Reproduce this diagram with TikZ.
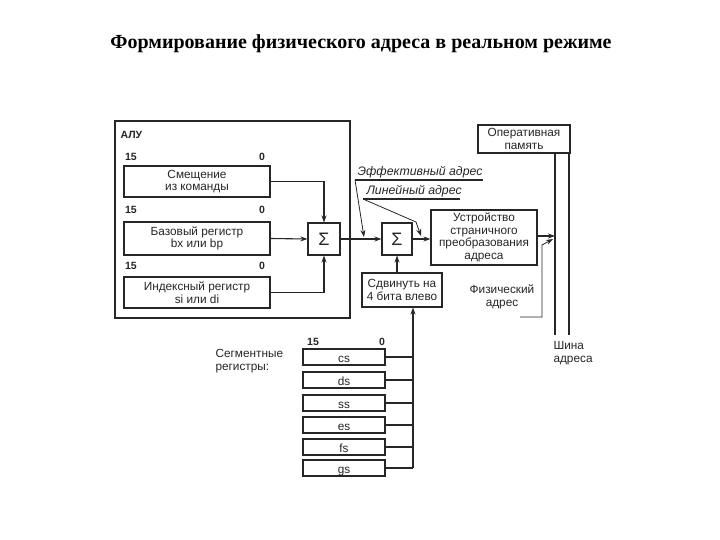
\documentclass[tikz,border=0pt]{standalone}
\usepackage{fontspec}
\setmainfont{Liberation Sans}
\newfontfamily\titlefont{Liberation Serif}
\usetikzlibrary{arrows.meta}
\begin{document}
\begin{tikzpicture}[x=1pt,y=-1pt,line width=1.1pt,
  ink/.style={draw=black!85},
  box/.style={draw=black!85,line width=1.1pt,inner sep=0pt,align=center,text=black!85,font=\fontsize{11.8}{12.5}\selectfont},
  lbl/.style={inner sep=0pt,text=black!85,font=\fontsize{11.8}{12.5}\selectfont},
  num/.style={inner sep=0pt,text=black!85,font=\bfseries\fontsize{10.5}{11}\selectfont},
  itlbl/.style={inner sep=0pt,text=black!85,font=\itshape\fontsize{12.3}{13}\selectfont},
  arr/.style={draw=black!85,-{Stealth[length=7pt,width=5pt]}},
  sig/.style={draw=black!85,line width=1.1pt,inner sep=0pt,text=black!85,font=\fontsize{18}{18}\selectfont},
  seg/.style={draw=black!85,line width=1.1pt,inner sep=0pt,text=black!85,font=\fontsize{11.8}{12.5}\selectfont,minimum width=82pt,minimum height=16pt,text height=11pt,text depth=0pt}]
\useasboundingbox (0,0) rectangle (720,540);
\fill[white] (0,0) rectangle (720,540);
% title
\node[inner sep=0pt,font=\titlefont\bfseries\fontsize{20}{22}\selectfont] (title) at (361,44) {Формирование физического адреса в реальном режиме};
% ALU
\node[box,minimum width=235pt,minimum height=197pt] (alu) at (232.5,219.5) {};
\node[lbl,font=\bfseries\fontsize{10.5}{11}\selectfont,anchor=west] (alul) at (120,135) {АЛУ};
\node[box,minimum width=146pt,minimum height=31pt] (r1) at (197,181.5) {Смещение\\из команды};
\node[box,minimum width=146pt,minimum height=33pt] (r2) at (197,238.5) {Базовый регистр\\bx или bp};
\node[box,minimum width=146pt,minimum height=31pt] (r3) at (197,292.5) {Индексный регистр\\si или di};
\node[num] (r1a) at (131,157) {15};
\node[num] (r1b) at (262,157) {0};
\node[num] (r2a) at (131,210) {15};
\node[num] (r2b) at (262,210) {0};
\node[num] (r3a) at (131,266) {15};
\node[num] (r3b) at (262,266) {0};
\node[sig,minimum width=32pt,minimum height=32pt] (s1) at (324,239) {Σ};
% right part
\node[sig,minimum width=30pt,minimum height=32pt] (s2) at (397,239) {Σ};
\node[box,minimum width=106pt,minimum height=55pt] (page) at (484,237.5) {Устройство\\страничного\\преобразования\\адреса};
\node[box,minimum width=80pt,minimum height=34pt] (shift) at (402,290) {Сдвинуть на\\4 бита влево};
\node[box,minimum width=92pt,minimum height=28pt] (ram) at (524,139) {Оперативная\\память};
\node[lbl,align=center] (phys) at (502,297) {Физический\\адрес};
\node[lbl,align=left,anchor=north west] (bus) at (553,341) {Шина\\адреса};
\node[itlbl,anchor=base west] (eff) at (357,176) {Эффективный адрес};
\node[itlbl,anchor=base west] (lin) at (366,195) {Линейный адрес};
% segment registers
\node[lbl,align=left,anchor=west] (segl) at (215,361) {Сегментные\\регистры:};
\node[num] (sa) at (313,342) {15};
\node[num] (sb) at (382,342) {0};
\node[seg] (cs) at (344,357) {cs};
\node[seg] (ds) at (344,380) {ds};
\node[seg] (ss) at (344,403) {ss};
\node[seg] (es) at (344,425) {es};
\node[seg] (fs) at (344,447) {fs};
\node[seg] (gs) at (344,468) {gs};
\coordinate (vb) at (413,468);
\foreach \r in {cs,ds,ss,es,fs,gs} \draw[ink] (\r.east) -- (\r.east -| vb);
\draw[arr] (vb) -- (vb |- shift.south);
% ALU connections
\draw[arr] (r1.east) -| (s1.north);
\draw[arr] (r2.east) -- (s1.west);
\draw[arr] (r3.east) -| (s1.south);
\draw[arr] (s1.east) -- (s2.west);
\draw[arr] (s2.south |- shift.north) -- (s2.south);
\draw[arr] (s2.east) -- (page.west |- s2.east);
% bus
\coordinate (bl) at (555,335);
\coordinate (br) at (569,335);
\draw[ink] (bl |- ram.south) -- (bl);
\draw[ink] (br |- ram.south) -- (br);
\coordinate (pj) at (555,236);
\draw[arr] (page.east |- pj) -- (pj);
% callouts
\draw[ink] (eff.base west) ++(-2,4) coordinate (e0) -- ++(128,0);
\draw[arr,line width=0.8pt] (e0) -- (364,237);
\draw[ink] (lin.base west) ++(-3,4) coordinate (l0) -- ++(97,0);
\draw[arr,line width=0.8pt] (l0) -- (416,222) -- (421,236);
\coordinate (pc) at (520,317);
\draw[arr,line width=0.8pt] (pc) -- (542,317) -- (542,245) -- (553,239);
\end{tikzpicture}
\end{document}
